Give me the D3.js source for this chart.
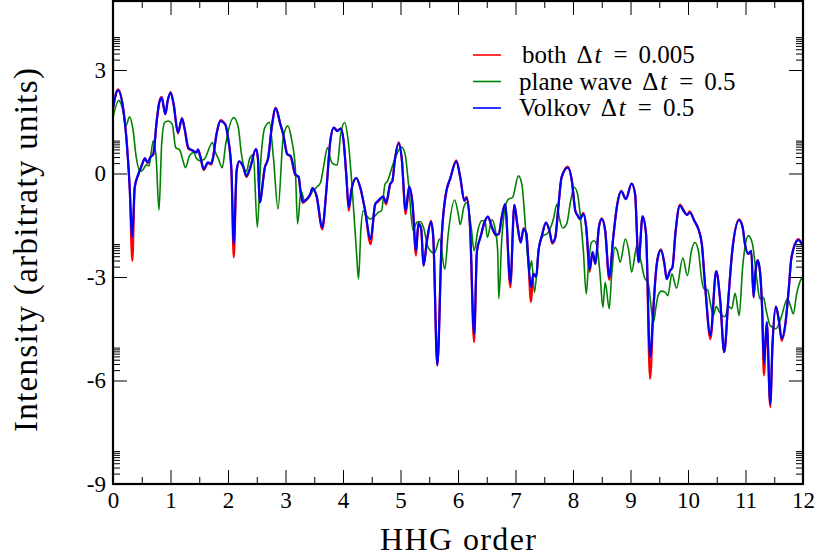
<!DOCTYPE html>
<html>
<head>
<meta charset="utf-8">
<script src="https://cdn.jsdelivr.net/npm/d3@7"></script>
<style>
    body { margin: 0; background: #fff; }
    svg { display: block; }
    .axis text { font-family: "Liberation Serif", "Times New Roman", serif; font-size: 23px; fill: #000; }
    .axis line { stroke: #000; stroke-width: 1; }
    .axis path { display: none; }
    .title { font-family: "Liberation Serif", "Times New Roman", serif; fill: #000; }
</style>
</head>
<body>
<div id="chart"></div>
<script>
// [HHG order, intensity]
const both = [
    [0, 1.9], [0.087, 2.44], [0.174, 1.93], [0.232, 1.04], [0.29, -0.4], [0.336, -2.53], [0.377, -0.42],
    [0.44, -0.04], [0.497, 0.22], [0.556, 0.44], [0.6, 0.3], [0.654, 0.48], [0.7, 0.56], [0.76, 1.52],
    [0.805, 2.07], [0.846, 2.22], [0.91, 1.72], [0.95, 2.1], [1.002, 2.36], [1.055, 2.0], [1.13, 1.16],
    [1.2, 1.6], [1.247, 1.28], [1.31, 0.72], [1.39, 0.66], [1.45, 0.61], [1.478, 0.69], [1.52, 0.48],
    [1.577, 0.1], [1.652, 0.3], [1.71, 0.26], [1.74, 0.46], [1.8, 1.14], [1.87, 1.55], [1.95, 1.43],
    [2.0, 1.04], [2.06, 0.08], [2.1, -2.43], [2.15, 0.08], [2.196, 0.35], [2.27, 0.17], [2.32, -0.1],
    [2.38, 0.13], [2.487, 0.71], [2.52, 0.43], [2.55, -0.84], [2.64, 0.17], [2.7, 0.46], [2.76, 1.33],
    [2.83, 1.91], [2.91, 1.43], [2.96, 1.14], [3.03, 0.56], [3.09, 0.48], [3.17, -0.05], [3.23, -0.12],
    [3.26, -0.5], [3.3, -0.85], [3.37, -0.76], [3.43, -0.62], [3.47, -0.42], [3.54, -0.65], [3.64, -1.62],
    [3.71, -0.5], [3.78, 0.95], [3.84, 1.33], [3.9, 1.25], [3.96, 1.3], [4.01, 0.95], [4.06, -0.12],
    [4.1, -1.08], [4.15, -0.45], [4.23, -0.13], [4.3, -0.42], [4.38, -1.03], [4.48, -2.05], [4.56, -0.89],
    [4.61, -0.82], [4.7, -0.67], [4.75, -0.9], [4.82, -0.31], [4.86, -0.21], [4.9, 0.37], [4.97, 0.9],
    [5.02, 0.46], [5.09, -1.18], [5.15, -0.38], [5.21, -0.89], [5.27, -2.38], [5.31, -1.43], [5.36, -1.61],
    [5.4, -2.67], [5.46, -1.95], [5.53, -1.37], [5.57, -1.85], [5.64, -5.56], [5.72, -1.75], [5.78, -0.69],
    [5.87, -0.12], [5.97, 0.38], [6.04, -0.12], [6.11, -0.79], [6.15, -0.68], [6.21, -1.56], [6.28, -4.89],
    [6.33, -2.24], [6.39, -1.85], [6.46, -1.42], [6.52, -1.25], [6.59, -1.56], [6.66, -1.8], [6.71, -1.75],
    [6.76, -1.27], [6.82, -0.89], [6.91, -3.3], [6.98, -0.91], [7.03, -1.46], [7.09, -2.0], [7.14, -1.58],
    [7.19, -1.75], [7.22, -2.43], [7.27, -3.73], [7.31, -2.91], [7.36, -3.0], [7.4, -2.24], [7.46, -1.8],
    [7.53, -1.42], [7.59, -1.66], [7.64, -2.03], [7.69, -1.87], [7.75, -0.89], [7.8, -0.12], [7.91, 0.2],
    [7.98, -0.21], [8.04, -1.08], [8.08, -1.22], [8.12, -1.32], [8.18, -1.14], [8.23, -1.56], [8.29, -2.85],
    [8.34, -2.28], [8.39, -2.62], [8.45, -1.56], [8.5, -1.3], [8.56, -1.66], [8.63, -3.08], [8.7, -1.85],
    [8.77, -0.89], [8.84, -0.5], [8.92, -0.74], [9.02, -0.29], [9.08, -0.6], [9.14, -2.57], [9.21, -1.24],
    [9.27, -1.75], [9.34, -5.95], [9.4, -3.88], [9.44, -2.9], [9.47, -2.48], [9.53, -2.2], [9.59, -2.62],
    [9.63, -3.06], [9.69, -2.81], [9.73, -2.72], [9.78, -1.75], [9.86, -0.9], [9.92, -1.05], [9.98, -1.2],
    [10.03, -1.1], [10.11, -1.37], [10.18, -1.61], [10.24, -2.04], [10.3, -3.3], [10.39, -4.8], [10.49, -2.83],
    [10.56, -3.68], [10.63, -5.18], [10.7, -3.68], [10.77, -2.24], [10.89, -1.33], [10.95, -1.56],
    [10.99, -2.04], [11.05, -2.33], [11.1, -2.24], [11.14, -3.59], [11.17, -2.91], [11.21, -2.51],
    [11.25, -2.81], [11.29, -3.97], [11.32, -5.85], [11.37, -4.31], [11.43, -6.77], [11.47, -4.94],
    [11.53, -3.86], [11.58, -4.26], [11.63, -4.85], [11.69, -4.41], [11.75, -3.39], [11.8, -2.43],
    [11.92, -1.9], [11.98, -2.04], [12, -2.1]
];

const planeWave = [
    [0, 1.62], [0.1, 2.12], [0.174, 1.81], [0.22, 1.38], [0.29, 1.64], [0.35, 1.24], [0.405, 0.46],
    [0.475, 0.06], [0.53, 0.13], [0.58, 0.25], [0.626, 0.22], [0.7, 0.95], [0.75, 0.46], [0.8, -1.06],
    [0.846, 0.85], [0.9, 1.48], [0.957, 1.52], [1.03, 1.43], [1.09, 0.75], [1.16, 0.68], [1.217, 0.37],
    [1.26, 0.17], [1.33, 0.51], [1.4, 0.61], [1.45, 0.44], [1.51, 0.37], [1.59, 0.42], [1.73, 0.9],
    [1.77, 0.66], [1.83, 0.44], [1.9, 0.17], [1.96, 0.85], [2.1, 1.62], [2.18, 1.33], [2.23, 0.61],
    [2.32, 0.06], [2.38, 0.45], [2.44, 0.55], [2.51, -1.56], [2.57, 0.37], [2.64, 1.33], [2.72, 1.48],
    [2.79, 0.46], [2.87, -1.03], [2.96, 1.04], [3.04, 1.38], [3.11, 0.95], [3.17, 0.17], [3.21, -1.46],
    [3.27, -0.5], [3.33, -0.79], [3.4, -0.69], [3.48, -0.5], [3.54, -0.4], [3.61, -0.26], [3.67, 0.27],
    [3.73, 0.75], [3.79, 0.37], [3.84, 0.27], [3.9, 0.25], [3.96, 1.14], [4.03, 1.48], [4.09, 0.95],
    [4.15, -0.21], [4.21, -1.66], [4.24, -2.43], [4.27, -3.06], [4.31, -1.66], [4.35, -1.08], [4.41, -1.22],
    [4.47, -1.32], [4.56, -1.22], [4.61, -1.13], [4.67, -1.08], [4.73, -0.31], [4.77, -0.23], [4.87, 0.27],
    [5.02, 0.77], [5.08, 0.56], [5.14, -0.31], [5.22, -1.66], [5.28, -1.42], [5.34, -1.39], [5.4, -1.56],
    [5.48, -2.14], [5.59, -2.31], [5.68, -1.9], [5.77, -2.77], [5.83, -1.75], [5.94, -0.77], [6.0, -1.13],
    [6.04, -1.48], [6.1, -0.98], [6.15, -0.84], [6.23, -1.56], [6.28, -2.24], [6.35, -1.61], [6.41, -1.37],
    [6.47, -1.37], [6.51, -1.85], [6.59, -1.34], [6.64, -1.56], [6.69, -2.24], [6.71, -3.63], [6.76, -1.95],
    [6.82, -0.98], [6.88, -0.74], [6.95, -0.69], [7.05, -0.07], [7.11, -0.31], [7.14, -0.8], [7.19, -1.95],
    [7.24, -2.81], [7.28, -2.53], [7.33, -3.44], [7.4, -2.24], [7.48, -1.8], [7.55, -1.75], [7.6, -1.61],
    [7.66, -1.32], [7.72, -0.89], [7.76, -1.27], [7.82, -1.58], [7.89, -1.46], [7.96, -0.79], [8.02, -0.4],
    [8.08, -0.6], [8.14, -1.46], [8.18, -2.24], [8.23, -3.49], [8.27, -2.62], [8.32, -2.0], [8.37, -1.95],
    [8.42, -2.14], [8.47, -2.91], [8.52, -3.88], [8.56, -3.15], [8.63, -3.92], [8.67, -3.0], [8.73, -2.14],
    [8.77, -2.24], [8.82, -2.57], [8.91, -1.9], [8.97, -2.24], [9.02, -2.86], [9.08, -2.33], [9.11, -2.09],
    [9.18, -2.53], [9.24, -3.0], [9.31, -3.2], [9.4, -4.31], [9.44, -3.9], [9.48, -3.54], [9.54, -3.41],
    [9.6, -3.44], [9.65, -3.54], [9.72, -2.91], [9.8, -3.32], [9.91, -2.45], [9.99, -2.96], [10.06, -2.24],
    [10.12, -2.0], [10.18, -2.24], [10.24, -3.1], [10.28, -3.35], [10.34, -3.37], [10.38, -3.68],
    [10.44, -4.12], [10.49, -3.86], [10.56, -4.05], [10.64, -4.15], [10.71, -3.86], [10.76, -3.92],
    [10.82, -3.47], [10.89, -4.12], [10.95, -2.72], [10.99, -2.14], [11.05, -1.8], [11.12, -2.04],
    [11.2, -3.1], [11.25, -3.63], [11.31, -3.59], [11.36, -3.97], [11.43, -4.41], [11.53, -4.5],
    [11.62, -4.17], [11.73, -3.63], [11.79, -3.88], [11.83, -4.07], [11.89, -3.49], [11.98, -3.03], [12, -3.0]
];

const volkov = [
    [0, 1.9], [0.087, 2.41], [0.174, 1.91], [0.232, 1.04], [0.29, -0.4], [0.336, -1.85], [0.377, -0.4],
    [0.44, -0.02], [0.497, 0.22], [0.556, 0.44], [0.6, 0.32], [0.654, 0.48], [0.7, 0.56], [0.76, 1.52],
    [0.805, 2.05], [0.846, 2.2], [0.91, 1.72], [0.95, 2.1], [1.002, 2.34], [1.055, 2.0], [1.13, 1.19],
    [1.2, 1.6], [1.247, 1.28], [1.31, 0.75], [1.39, 0.66], [1.45, 0.61], [1.478, 0.69], [1.52, 0.48],
    [1.577, 0.13], [1.652, 0.32], [1.71, 0.29], [1.74, 0.46], [1.8, 1.14], [1.87, 1.52], [1.95, 1.43],
    [2.0, 1.04], [2.06, 0.08], [2.1, -2.04], [2.15, 0.08], [2.196, 0.35], [2.27, 0.17], [2.32, -0.07],
    [2.38, 0.13], [2.487, 0.71], [2.52, 0.46], [2.55, -0.84], [2.64, 0.17], [2.7, 0.46], [2.76, 1.33],
    [2.83, 1.89], [2.91, 1.43], [2.96, 1.14], [3.03, 0.56], [3.09, 0.51], [3.17, -0.02], [3.23, -0.1],
    [3.26, -0.5], [3.3, -0.82], [3.37, -0.74], [3.43, -0.6], [3.47, -0.42], [3.54, -0.65], [3.64, -1.56],
    [3.71, -0.5], [3.78, 0.95], [3.84, 1.33], [3.9, 1.23], [3.96, 1.3], [4.01, 0.95], [4.06, -0.12],
    [4.1, -0.98], [4.15, -0.45], [4.23, -0.13], [4.3, -0.4], [4.38, -1.03], [4.48, -1.9], [4.56, -0.89],
    [4.61, -0.79], [4.7, -0.67], [4.75, -0.84], [4.82, -0.31], [4.86, -0.21], [4.9, 0.37], [4.97, 0.87],
    [5.02, 0.46], [5.09, -1.08], [5.15, -0.38], [5.21, -0.89], [5.27, -2.24], [5.31, -1.46], [5.36, -1.61],
    [5.4, -2.67], [5.46, -1.95], [5.53, -1.4], [5.57, -1.85], [5.64, -5.56], [5.72, -1.75], [5.78, -0.69],
    [5.87, -0.12], [5.97, 0.35], [6.04, -0.12], [6.11, -0.79], [6.15, -0.71], [6.21, -1.56], [6.28, -4.65],
    [6.33, -2.24], [6.39, -1.85], [6.46, -1.42], [6.52, -1.25], [6.59, -1.56], [6.66, -1.77], [6.71, -1.75],
    [6.76, -1.27], [6.82, -0.89], [6.91, -3.15], [6.98, -0.91], [7.03, -1.46], [7.09, -2.0], [7.14, -1.61],
    [7.19, -1.75], [7.22, -2.43], [7.27, -3.3], [7.31, -2.91], [7.36, -3.0], [7.4, -2.24], [7.46, -1.8],
    [7.53, -1.42], [7.59, -1.66], [7.64, -2.0], [7.69, -1.87], [7.75, -0.89], [7.8, -0.12], [7.91, 0.17],
    [7.98, -0.21], [8.04, -1.08], [8.08, -1.22], [8.12, -1.32], [8.18, -1.17], [8.23, -1.56], [8.29, -2.77],
    [8.34, -2.28], [8.39, -2.62], [8.45, -1.56], [8.5, -1.32], [8.56, -1.66], [8.63, -3.0], [8.7, -1.85],
    [8.77, -0.89], [8.84, -0.52], [8.92, -0.74], [9.02, -0.29], [9.08, -0.6], [9.14, -2.57], [9.21, -1.24],
    [9.27, -1.75], [9.34, -5.32], [9.4, -3.88], [9.44, -2.9], [9.47, -2.48], [9.53, -2.22], [9.59, -2.62],
    [9.63, -3.06], [9.69, -2.81], [9.73, -2.72], [9.78, -1.75], [9.86, -0.93], [9.92, -1.08], [9.98, -1.2],
    [10.03, -1.13], [10.11, -1.37], [10.18, -1.61], [10.24, -2.04], [10.3, -3.3], [10.39, -4.69], [10.49, -2.83],
    [10.56, -3.68], [10.63, -5.18], [10.7, -3.68], [10.77, -2.24], [10.89, -1.35], [10.95, -1.56],
    [10.99, -2.04], [11.05, -2.33], [11.1, -2.24], [11.14, -3.59], [11.17, -2.91], [11.21, -2.51],
    [11.25, -2.81], [11.29, -3.97], [11.32, -5.51], [11.37, -4.31], [11.43, -6.67], [11.47, -4.94],
    [11.53, -3.86], [11.58, -4.26], [11.63, -4.79], [11.69, -4.41], [11.75, -3.39], [11.8, -2.43],
    [11.92, -1.93], [11.98, -2.04], [12, -2.1]
];

const seriesNames = ["both", "plane wave", "Volkov"];
const seriesSteps = ["0.005", "0.5", "0.5"];
const seriesColors = ["#ff0000", "#008000", "#0000ff"];
const xMajorTicks = d3.range(0, 13, 1);
const xMinorTicks = d3.range(0.5, 12, 1);
const yMajorTicks = [-9, -6, -3, 0, 3];

const margin = { top: 1, right: 15, bottom: 74, left: 113 };
const width = 818 - margin.left - margin.right;
const height = 558 - margin.top - margin.bottom;

const svg = d3.select("#chart")
    .append("svg")
    .attr("width", 818)
    .attr("height", 558)
    .append("g")
    .attr("transform", "translate(" + margin.left + "," + margin.top + ")");

const x = d3.scaleLinear().domain([0, 12]).range([0, width]);
const y = d3.scaleLinear().domain([-9, 5]).range([height, 0]);

// log-style minor ticks inside each 3-unit step
let yMinorTicks = [];
yMajorTicks.forEach(m => {
    d3.range(2, 10).forEach(k => yMinorTicks.push(m + Math.log10(k)));
});

const fmt = d => String(d);

// clip
svg.append("clipPath").attr("id", "clip")
    .append("rect").attr("width", width).attr("height", height);

// curves: red, green, blue on top
const line = d3.line()
    .x(d => x(d[0]))
    .y(d => y(d[1]))
    .curve(d3.curveMonotoneX);

const allSeries = [both, planeWave, volkov];
const widths = [2.2, 1.6, 2.2];

svg.append("g").attr("clip-path", "url(#clip)")
    .selectAll("path")
    .data(allSeries)
    .enter()
    .append("path")
    .attr("d", d => line(d))
    .attr("fill", "none")
    .attr("stroke", (d, i) => seriesColors[i])
    .attr("stroke-width", (d, i) => widths[i])
    .attr("stroke-linejoin", "round");

// axes, ticks pointing inward
svg.append("g").attr("class", "axis")
    .attr("transform", "translate(0," + height + ")")
    .call(d3.axisBottom(x).tickValues(xMajorTicks).tickSize(-14).tickPadding(8).tickFormat(fmt));
svg.append("g").attr("class", "axis")
    .attr("transform", "translate(0," + height + ")")
    .call(d3.axisBottom(x).tickValues(xMinorTicks).tickSize(-7).tickFormat(""));
svg.append("g").attr("class", "axis")
    .call(d3.axisTop(x).tickValues(xMajorTicks).tickSize(-14).tickFormat(""));
svg.append("g").attr("class", "axis")
    .call(d3.axisTop(x).tickValues(xMinorTicks).tickSize(-7).tickFormat(""));

svg.append("g").attr("class", "axis")
    .call(d3.axisLeft(y).tickValues(yMajorTicks).tickSize(-14).tickPadding(7).tickFormat(fmt));
svg.append("g").attr("class", "axis")
    .call(d3.axisLeft(y).tickValues(yMinorTicks).tickSize(-7).tickFormat(""));
svg.append("g").attr("class", "axis")
    .attr("transform", "translate(" + width + ",0)")
    .call(d3.axisRight(y).tickValues(yMajorTicks).tickSize(-14).tickFormat(""));
svg.append("g").attr("class", "axis")
    .attr("transform", "translate(" + width + ",0)")
    .call(d3.axisRight(y).tickValues(yMinorTicks).tickSize(-7).tickFormat(""));

// frame
svg.append("rect")
    .attr("width", width)
    .attr("height", height)
    .attr("fill", "none")
    .attr("stroke", "#000")
    .attr("stroke-width", 2.2);

// axis titles
svg.append("text")
    .attr("class", "title")
    .attr("x", width / 2)
    .attr("y", height + 66)
    .attr("text-anchor", "middle")
    .attr("font-size", "32px")
    .attr("textLength", 156)
    .attr("lengthAdjust", "spacing")
    .text("HHG order");

svg.append("text")
    .attr("class", "title")
    .attr("transform", "rotate(-90)")
    .attr("x", -(250 - margin.top))
    .attr("y", 37 - margin.left)
    .attr("text-anchor", "middle")
    .attr("font-size", "33px")
    .attr("textLength", 364)
    .attr("lengthAdjust", "spacing")
    .text("Intensity (arbitraty units)");

// legend
const legend = svg.append("g").attr("transform", "translate(" + (473 - margin.left) + "," + (55 - margin.top) + ")");
seriesNames.forEach((name, i) => {
    const g = legend.append("g").attr("transform", "translate(0," + (i * 26.5) + ")");
    g.append("line")
        .attr("x1", 0).attr("x2", 28)
        .attr("stroke", seriesColors[i])
        .attr("stroke-width", 1.6);
    const t = g.append("text")
        .attr("class", "title")
        .attr("x", i === 0 ? 49 : 46)
        .attr("y", 8)
        .attr("font-size", "25px");
    t.append("tspan").text(name);
    t.append("tspan").attr("dx", 10).text("\u0394");
    t.append("tspan").attr("dx", 2).attr("font-style", "italic").text("t");
    t.append("tspan").attr("dx", 12).text("=");
    t.append("tspan").attr("dx", 11).text(seriesSteps[i]);
});
</script>
</body>
</html>
